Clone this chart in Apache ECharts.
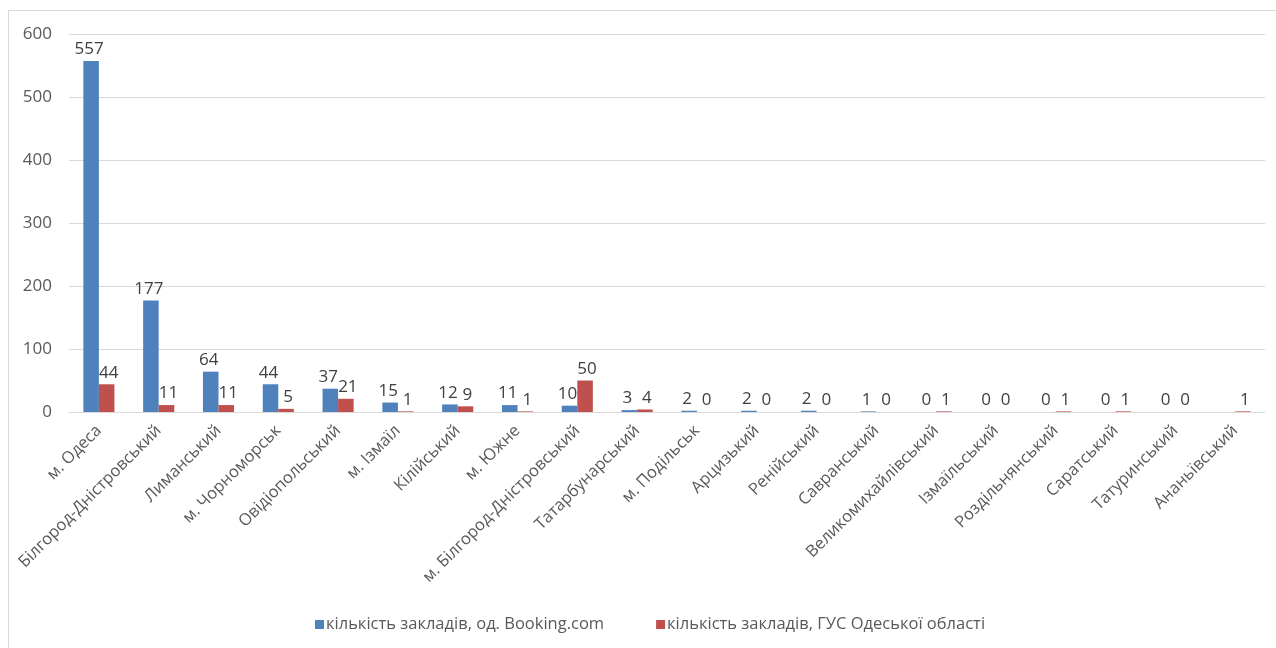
<!DOCTYPE html>
<html><head><meta charset="utf-8">
<script src="https://cdn.jsdelivr.net/npm/echarts@6/dist/echarts.min.js"></script>
<style>
html,body{margin:0;padding:0;background:#fff;}
#frame{position:absolute;left:8px;top:10px;width:1280px;height:660px;border:1px solid #d9d9d9;box-sizing:border-box;}
#c{position:absolute;left:0;top:0;width:1276px;height:648px;}
</style></head>
<body><div id="frame"></div><div id="c"></div>
<script>
const categories = ["м. Одеса","Білгород-Дністровський","Лиманський","м. Чорноморськ","Овідіопольський","м. Ізмаїл","Кілійський","м. Южне","м. Білгород-Дністровський","Татарбунарський","м. Подільськ","Арцизький","Ренійський","Савранський","Великомихайлівський","Ізмаїльський","Роздільнянський","Саратський","Татуринський","Ананьївський"];
const bookingValues = [557,177,64,44,37,15,12,11,10,3,2,2,2,1,0,0,0,0,0,null];
const gusValues = [44,11,11,5,21,1,9,1,50,4,0,0,0,0,1,0,1,1,0,1];
const seriesNames = ["кількість закладів, од. Booking.com","кількість закладів, ГУС Одеської області"];
const yTicks = {min:0,max:600,interval:100};

const font = "'Open Sans', 'Noto Sans', sans-serif";
const chart = echarts.init(document.getElementById('c'));
const lblBase = {show:true, position:'top', distance:3, color:'#404040', fontSize:17, fontFamily:font};
chart.setOption({
  animation:false,
  grid:{left:69,right:11,top:34,bottom:236,containLabel:false},
  legend:{bottom:10,left:310,itemWidth:9,itemHeight:9,itemGap:52,icon:'rect',
    textStyle:{color:'#595959',fontSize:16.5,fontFamily:font,padding:[0,0,0,-3]}},
  xAxis:{type:'category',data:categories,
    axisLine:{lineStyle:{color:'#d9d9d9',width:1}},axisTick:{show:false},
    axisLabel:{rotate:45,interval:0,color:'#595959',fontSize:16.5,fontFamily:font,margin:16}},
  yAxis:{type:'value',min:yTicks.min,max:yTicks.max,interval:yTicks.interval,
    axisLine:{show:false},axisTick:{show:false},
    splitLine:{lineStyle:{color:'#d9d9d9',width:1}},
    axisLabel:{color:'#595959',fontSize:17,fontFamily:font,margin:17}},
  series:[
    {name:seriesNames[0],type:'bar',data:bookingValues,barWidth:'26%',barGap:'0%',
      itemStyle:{color:'#4f81bd'},label:Object.assign({offset:[-2,0]},lblBase)},
    {name:seriesNames[1],type:'bar',data:gusValues,barWidth:'26%',barGap:'0%',
      itemStyle:{color:'#c0504d'},label:Object.assign({offset:[2,0]},lblBase)}
  ]
});
</script></body></html>
